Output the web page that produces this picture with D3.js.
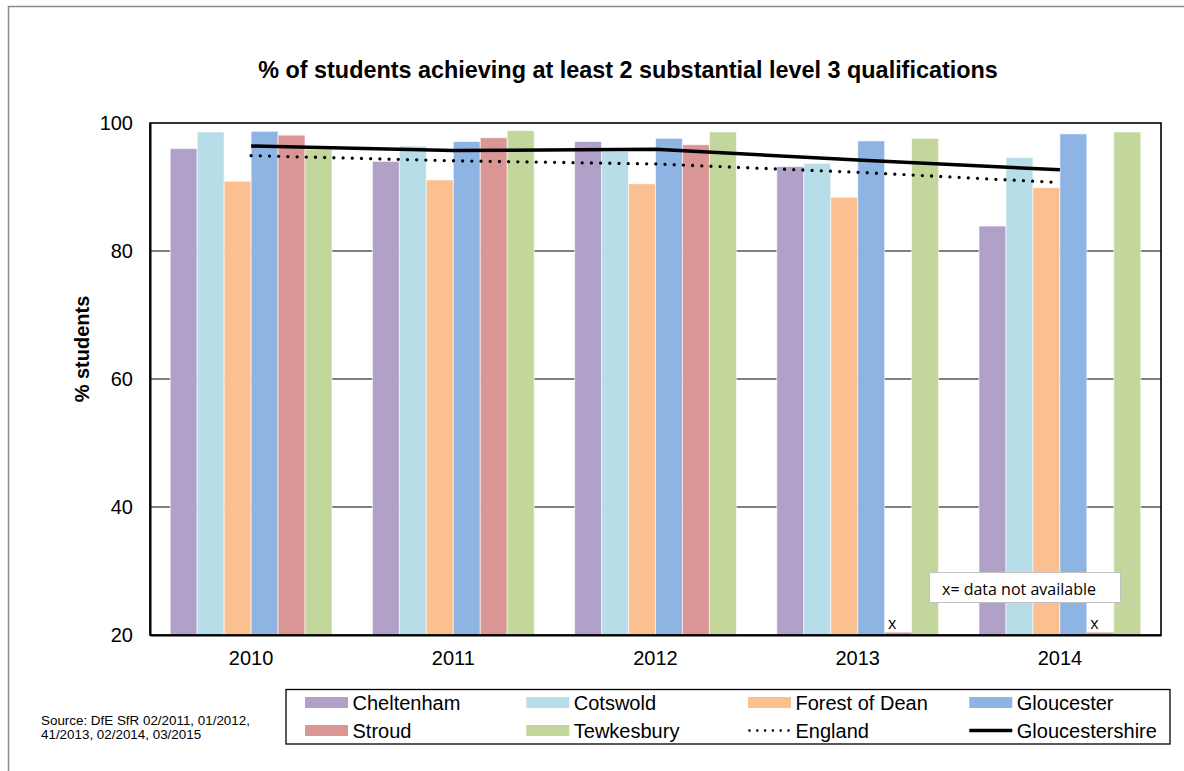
<!DOCTYPE html>
<html>
<head>
<meta charset="utf-8">
<script src="https://cdn.jsdelivr.net/npm/d3@7"></script>
<style>
  html, body { margin: 0; padding: 0; background: #fff; }
  svg { display: block; font-family: Arial, "Liberation Sans", sans-serif; }
</style>
</head>
<body>
<svg id="chart" width="1184" height="771"></svg>
<script>
// Year categories along the x axis
const years = ["2010", "2011", "2012", "2013", "2014"];

// District bar series (% of students); null = data not available
const districts = ["Cheltenham", "Cotswold", "Forest of Dean", "Gloucester", "Stroud", "Tewkesbury"];
const cheltenham   = [96.0, 94.0, 97.1, 93.2, 83.9];
const cotswold     = [98.6, 96.4, 95.6, 93.7, 94.6];
const forestOfDean = [90.9, 91.1, 90.5, 88.4, 89.9];
const gloucester   = [98.7, 97.1, 97.6, 97.2, 98.3];
const stroud       = [98.1, 97.7, 96.6, null, null];
const tewkesbury   = [95.9, 98.8, 98.6, 97.6, 98.6];

// Comparison lines
const england         = [94.9, 94.1, 93.6, 92.3, 90.7];
const gloucestershire = [96.4, 95.7, 95.9, 94.2, 92.7];

const yTicks = [20, 40, 60, 80, 100];

const barColors = ["#B1A0C7", "#B7DEE8", "#FAC090", "#8EB4E3", "#D99694", "#C3D69B"];
const seriesValues = [cheltenham, cotswold, forestOfDean, gloucester, stroud, tewkesbury];

const svg = d3.select("#chart");
const plot = { left: 150, right: 1161, top: 123, bottom: 635 };

// Outer chart border
svg.append("rect")
  .attr("x", 8.5).attr("y", 6.5)
  .attr("width", 1200).attr("height", 800)
  .attr("fill", "none").attr("stroke", "#8a8a8a").attr("stroke-width", 1.5);

// Scales
const x0 = d3.scaleBand().domain(years)
  .range([plot.left, plot.right])
  .paddingInner(0.2).paddingOuter(0.1);
const x1 = d3.scaleBand().domain(districts)
  .range([0, x0.bandwidth()]).padding(0);
const y = d3.scaleLinear().domain([20, 100]).range([plot.bottom, plot.top]);

// Horizontal gridlines
svg.append("g")
  .selectAll("line")
  .data(yTicks.filter(t => t > 20 && t < 100))
  .join("line")
  .attr("x1", plot.left).attr("x2", plot.right)
  .attr("y1", d => y(d)).attr("y2", d => y(d))
  .attr("stroke", "#000").attr("stroke-width", 1);

// Bars
const rows = [];
years.forEach((yr, i) => {
  districts.forEach((name, j) => {
    rows.push({ year: yr, name, value: seriesValues[j][i], color: barColors[j] });
  });
});

const barG = svg.append("g");
barG.selectAll("rect")
  .data(rows.filter(d => d.value !== null))
  .join("rect")
  .attr("x", d => x0(d.year) + x1(d.name))
  .attr("width", x1.bandwidth())
  .attr("y", d => y(d.value))
  .attr("height", d => y(20) - y(d.value))
  .attr("fill", d => d.color)
  .attr("stroke", "rgba(255,255,255,0.6)")
  .attr("stroke-width", 1);

// Missing values: a flat stub at the baseline plus an "x" marker
const missing = rows.filter(d => d.value === null);
barG.selectAll("line.missing")
  .data(missing)
  .join("line")
  .attr("class", "missing")
  .attr("x1", d => x0(d.year) + x1(d.name))
  .attr("x2", d => x0(d.year) + x1(d.name) + x1.bandwidth())
  .attr("y1", y(20) - 1.5).attr("y2", y(20) - 1.5)
  .attr("stroke", "#D99694").attr("stroke-width", 2);
barG.selectAll("text.missing")
  .data(missing)
  .join("text")
  .attr("class", "missing")
  .attr("x", d => x0(d.year) + x1(d.name) + x1.bandwidth() / 2 - 6)
  .attr("y", y(20) - 6)
  .attr("text-anchor", "middle")
  .attr("font-family", "'Open Sans', sans-serif")
  .attr("font-size", 16)
  .text("x");

// Lines through the category centres
const cx = i => x0(years[i]) + x0.bandwidth() / 2;
const lineGen = d3.line().x((d, i) => cx(i)).y(d => y(d));

svg.append("path")
  .datum(england)
  .attr("d", lineGen)
  .attr("fill", "none")
  .attr("stroke", "#000")
  .attr("stroke-width", 3.3)
  .attr("stroke-linecap", "round")
  .attr("stroke-dasharray", "0 9.2");

svg.append("path")
  .datum(gloucestershire)
  .attr("d", lineGen)
  .attr("fill", "none")
  .attr("stroke", "#000")
  .attr("stroke-width", 3.5);

// Plot frame
svg.append("rect")
  .attr("x", plot.left).attr("y", plot.top)
  .attr("width", plot.right - plot.left).attr("height", plot.bottom - plot.top)
  .attr("fill", "none").attr("stroke", "#000").attr("stroke-width", 1.6);

// Y axis
const yAxis = svg.append("g")
  .attr("transform", `translate(${plot.left},0)`)
  .call(d3.axisLeft(y).tickValues(yTicks).tickSize(0).tickPadding(17));
yAxis.select(".domain").attr("stroke", "#000").attr("stroke-width", 2);
yAxis.selectAll("text")
  .attr("font-family", "Arial, 'Liberation Sans', sans-serif")
  .attr("font-size", 20).attr("fill", "#000");

// X axis
const xAxis = svg.append("g")
  .attr("transform", `translate(0,${plot.bottom})`)
  .call(d3.axisBottom(x0).tickSize(0).tickPadding(16));
xAxis.select(".domain").attr("stroke", "#000").attr("stroke-width", 2);
xAxis.selectAll("text")
  .attr("font-family", "Arial, 'Liberation Sans', sans-serif")
  .attr("font-size", 20).attr("fill", "#000");

// Title
svg.append("text")
  .attr("x", 628).attr("y", 78)
  .attr("text-anchor", "middle")
  .attr("font-weight", "bold")
  .attr("font-size", 23.4)
  .text("% of students achieving at least 2 substantial level 3 qualifications");

// Y axis title
svg.append("text")
  .attr("transform", "translate(89,349) rotate(-90)")
  .attr("text-anchor", "middle")
  .attr("font-weight", "bold")
  .attr("font-size", 20)
  .text("% students");

// Note box
const note = svg.append("g");
note.append("rect")
  .attr("x", 929.5).attr("y", 572.5)
  .attr("width", 191).attr("height", 30)
  .attr("fill", "#fff").attr("stroke", "#c0c0c0").attr("stroke-width", 1);
note.append("text")
  .attr("x", 942).attr("y", 595)
  .attr("font-family", "'Open Sans', sans-serif")
  .attr("font-size", 16)
  .text("x= data not available");

// Source note
const src = svg.append("text")
  .attr("font-size", 13.4).attr("fill", "#000");
src.append("tspan").attr("x", 41).attr("y", 725).text("Source: DfE SfR 02/2011, 01/2012,");
src.append("tspan").attr("x", 41).attr("y", 739).text("41/2013, 02/2014, 03/2015");

// Legend
const legendItems = [
  { name: "Cheltenham", type: "bar", color: barColors[0] },
  { name: "Cotswold", type: "bar", color: barColors[1] },
  { name: "Forest of Dean", type: "bar", color: barColors[2] },
  { name: "Gloucester", type: "bar", color: barColors[3] },
  { name: "Stroud", type: "bar", color: barColors[4] },
  { name: "Tewkesbury", type: "bar", color: barColors[5] },
  { name: "England", type: "dot" },
  { name: "Gloucestershire", type: "line" }
];
const legend = svg.append("g");
legend.append("rect")
  .attr("x", 286).attr("y", 689.5)
  .attr("width", 884).attr("height", 54.5)
  .attr("fill", "#fff").attr("stroke", "#000").attr("stroke-width", 1.3);

const colX = [305, 526.3, 748, 969.3];
const rowY = [702.5, 730.5];
const li = legend.selectAll("g.item")
  .data(legendItems)
  .join("g")
  .attr("class", "item")
  .attr("transform", (d, i) => `translate(${colX[i % 4]},${rowY[Math.floor(i / 4)]})`);

li.filter(d => d.type === "bar").append("rect")
  .attr("x", 0).attr("y", -5.5).attr("width", 43).attr("height", 11)
  .attr("fill", d => d.color);
li.filter(d => d.type === "dot").append("line")
  .attr("x1", 1.5).attr("x2", 41).attr("y1", 0).attr("y2", 0)
  .attr("stroke", "#000").attr("stroke-width", 2.6)
  .attr("stroke-linecap", "round").attr("stroke-dasharray", "0 7.8");
li.filter(d => d.type === "line").append("line")
  .attr("x1", 0).attr("x2", 43).attr("y1", 0).attr("y2", 0)
  .attr("stroke", "#000").attr("stroke-width", 3.4);
li.append("text")
  .attr("x", 47.5).attr("y", 7.3)
  .attr("font-size", 20)
  .text(d => d.name);
</script>
</body>
</html>
